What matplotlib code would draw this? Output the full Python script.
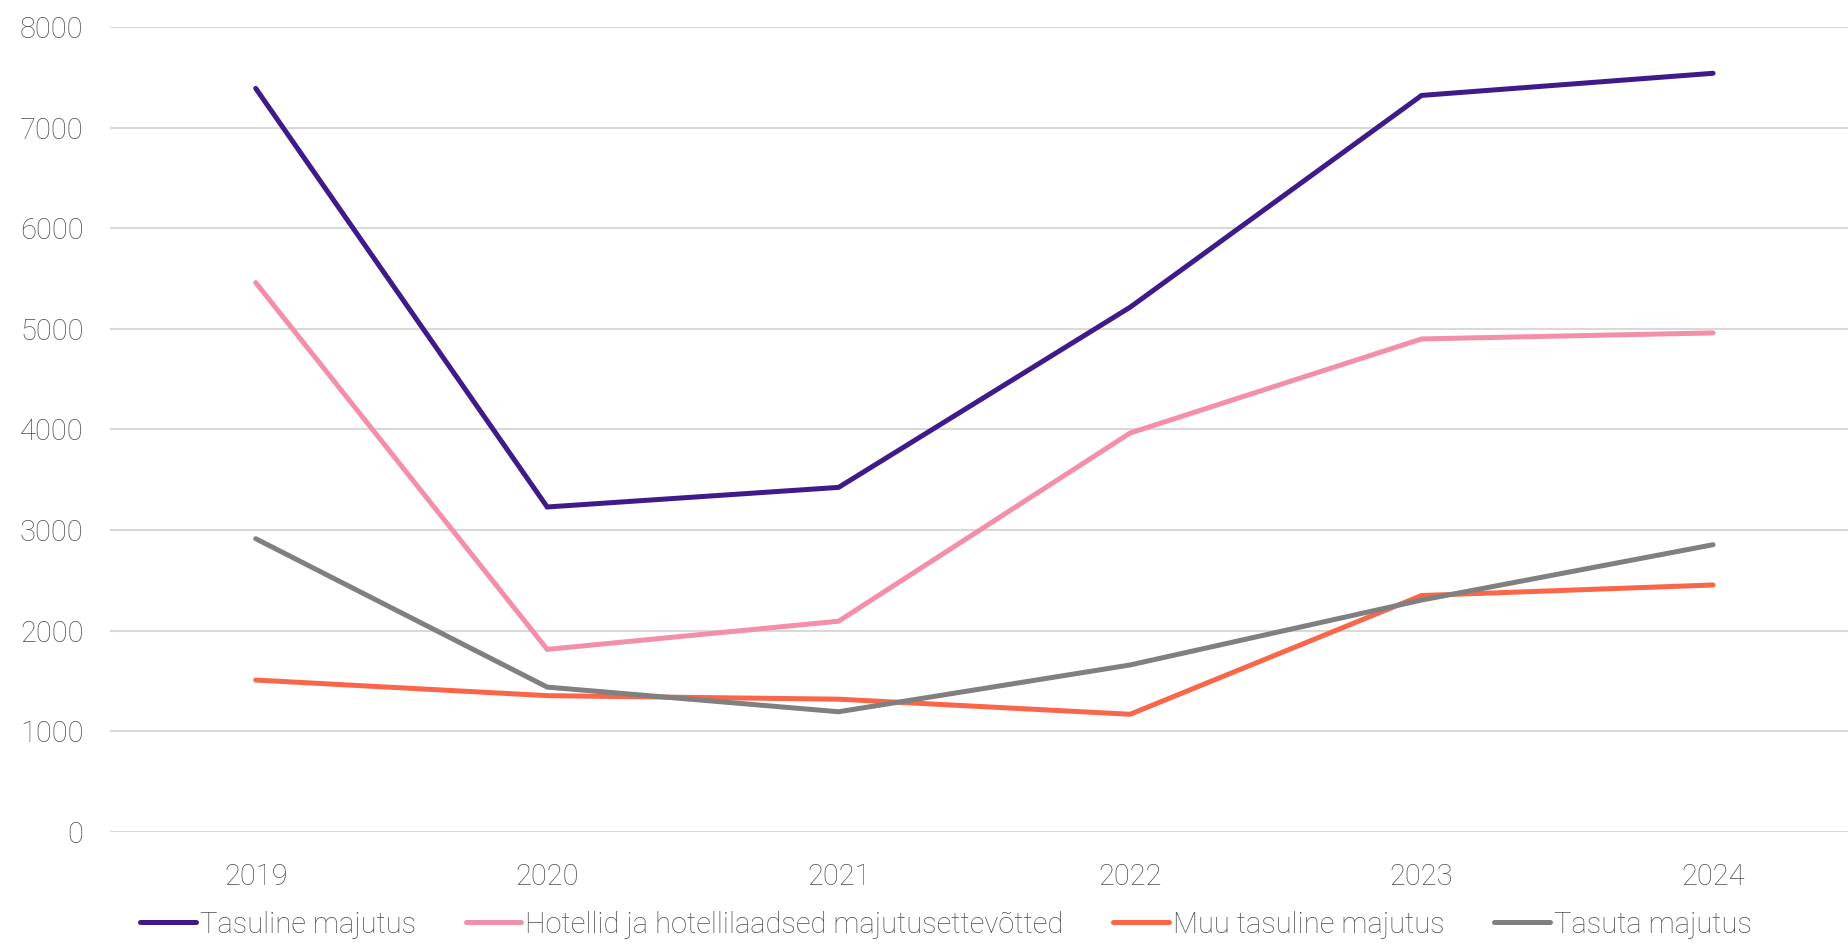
import matplotlib
matplotlib.use("Agg")
import matplotlib.pyplot as plt

plt.rcParams['font.family'] = ['Roboto', 'DejaVu Sans']
plt.rcParams['font.weight'] = 'light'

years = ["2019", "2020", "2021", "2022", "2023", "2024"]
tasuline = [7390, 3230, 3425, 5215, 7320, 7540]
hotellid = [5460, 1815, 2095, 3965, 4900, 4960]
muu = [1510, 1355, 1320, 1170, 2350, 2455]
tasuta = [2915, 1440, 1195, 1660, 2305, 2855]

labels = ["Tasuline majutus", "Hotellid ja hotellilaadsed majutusettevõtted",
          "Muu tasuline majutus", "Tasuta majutus"]
colors = ["#3F1A8A", "#F48FAA", "#F9664A", "#808080"]

fig = plt.figure(figsize=(18.48, 9.46), dpi=100)
ax = fig.add_axes([110 / 1848, 114 / 946, 1 - 110 / 1848, 805 / 946])

x = list(range(len(years)))
for series, lab, col in zip([tasuline, hotellid, muu, tasuta], labels, colors):
    ax.plot(x, series, color=col, lw=3.6, label=lab, solid_capstyle='round', solid_joinstyle='miter')

ax.set_xlim(-0.5, 5.463)
ax.set_ylim(0, 8000)
ax.set_yticks(range(0, 8001, 1000))
ax.set_xticks(x)
ax.set_xticklabels(years)
ax.grid(axis='y', color='#D9D9D9', lw=1.5)
ax.set_axisbelow(True)
for s in ax.spines.values():
    s.set_visible(False)
ax.tick_params(length=0, labelsize=21, labelcolor='#505050')
ax.tick_params(axis='x', pad=22)
ax.tick_params(axis='y', pad=19)

# legend below the plot, one row
leg = ax.legend(loc='center', bbox_to_anchor=(0.5 - 33 / 1738, -0.115), ncol=4, frameon=False,
                fontsize=21, handlelength=1.9, handletextpad=0.15, columnspacing=1.7)
for t in leg.get_texts():
    t.set_color('#505050')

fig.savefig("out.png", dpi=100)
